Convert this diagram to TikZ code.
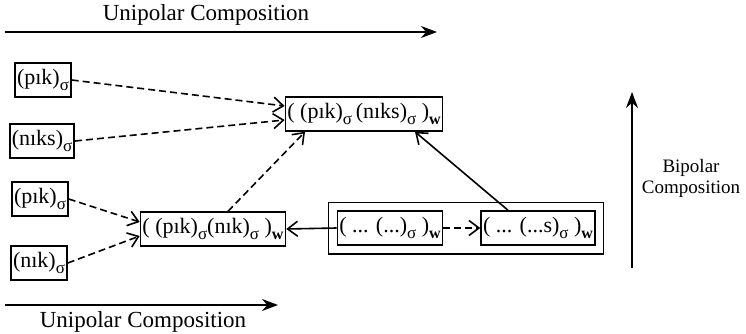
\documentclass[tikz,border=0pt]{standalone}
\usepackage{fontspec}
\setmainfont{Liberation Serif}
\usetikzlibrary{arrows.meta,fit}
\newcommand{\sg}{\raisebox{-0.3em}{\fontsize{17}{17}\selectfont σ}}
\newcommand{\sw}{\raisebox{-0.3em}{\fontsize{16}{16}\selectfont\bfseries w}}
\begin{document}
\begin{tikzpicture}[x=1pt,y=-1pt,
 box/.style={draw, line width=1.5pt, minimum height=34pt, inner xsep=2pt, inner ysep=0pt, font=\fontsize{22}{24}\selectfont},
 dasharrow/.style={line width=1.6pt, dash pattern=on 7pt off 4pt, -{Straight Barb[length=10pt,width=15pt]}},
 solarrow/.style={line width=1.6pt, -{Straight Barb[length=10pt,width=15pt]}},
 bigarrow/.style={line width=1.6pt, -{Stealth[length=16pt,width=12pt]}},
 lab/.style={font=\fontsize{23}{23}\selectfont, align=center}]
\useasboundingbox (0,0) rectangle (746,334);
\node[box] (a) at (43,80) {(pık)\sg};
\node[box] (b) at (42,141) {(nıks)\sg};
\node[box] (c) at (40,199) {(pık)\sg};
\node[box] (d) at (39,263) {(nık)\sg};
\node[box] (e) at (364,114) {( (pık)\sg\,(nıks)\sg\ )\sw};
\node[box] (f) at (213,229) {( (pık)\sg(nık)\sg\ )\sw};
\node[box] (h) at (390,228) {( ... (...)\sg\ )\sw};
\node[box] (i) at (538,228) {( ... (...s)\sg\ )\sw};
\node[draw, line width=1.5pt, fit=(h)(i), inner sep=8pt] (g) {};
\draw[dasharrow] (a.east) -- ([yshift=8pt]e.west);
\draw[dasharrow] (b.east) -- ([yshift=-6pt]e.west);
\draw[dasharrow] (c.east) -- ([yshift=7pt]f.west);
\draw[dasharrow] (d.east) -- ([yshift=-7pt]f.west);
\draw[dasharrow] ([xshift=15pt]f.north) -- ([xshift=-59pt]e.south);
\draw[solarrow] (h.west) -- (f.east);
\draw[dasharrow] (h.east) -- (i.west);
\draw[solarrow] ([xshift=-30pt]i.north) -- ([xshift=51pt]e.south);
\coordinate (t1) at (5,32); \coordinate (t2) at (437,32);
\draw[bigarrow] (t1) -- (t2);
\node[lab] (tl) at (206,15) {Unipolar Composition};
\coordinate (b1) at (5,305); \coordinate (b2) at (278,305);
\draw[bigarrow] (b1) -- (b2);
\node[lab] (bl) at (143,322) {Unipolar Composition};
\coordinate (v1) at (632,268); \coordinate (v2) at (632,92);
\draw[bigarrow] (v1) -- (v2);
\node[lab, font=\fontsize{19}{21}\selectfont] (vl) at (691,178) {Bipolar\\Composition};
\end{tikzpicture}
\end{document}
